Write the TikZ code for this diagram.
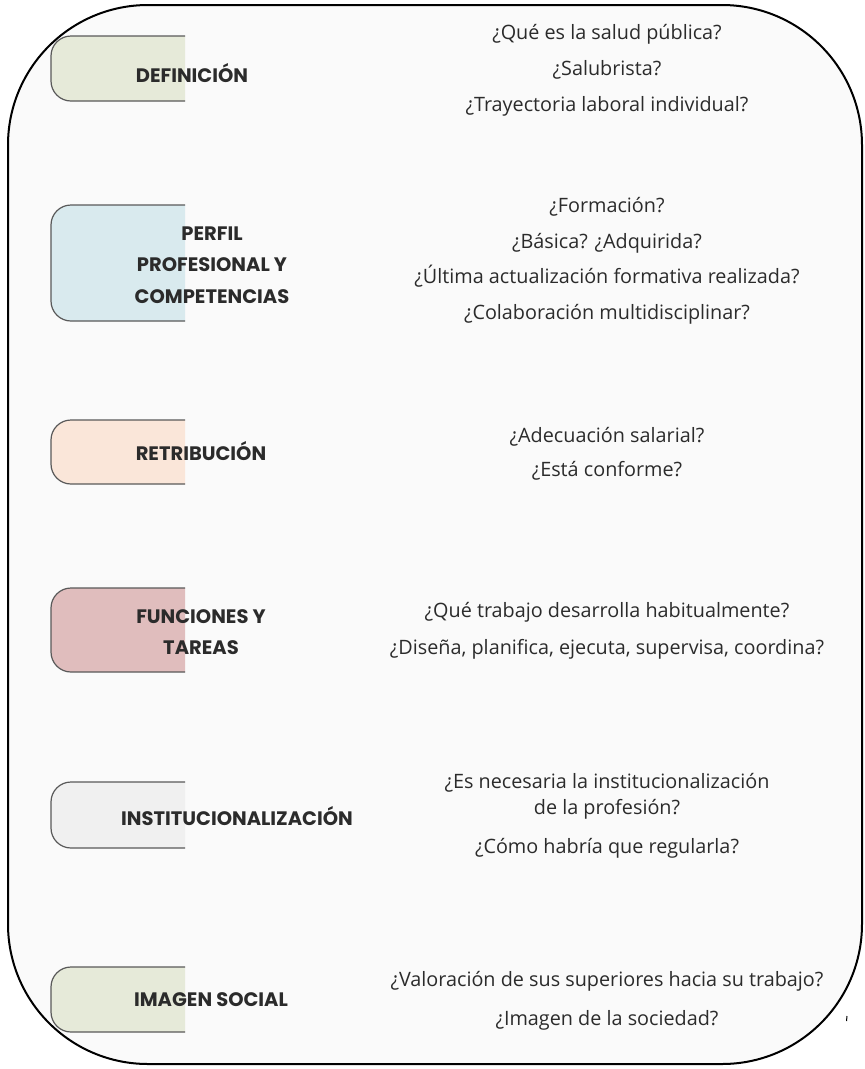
\documentclass[tikz,border=0pt]{standalone}
\usepackage{fontspec}
\setmainfont{Open Sans}
\newfontfamily\tabfont{Poppins}
\usepackage{xcolor}
\usepackage{tikz}
\usetikzlibrary{positioning}
\definecolor{panelgray}{HTML}{FAFAFA}
\definecolor{tabolive}{HTML}{E6EAD9}
\definecolor{tabblue}{HTML}{D9EAEE}
\definecolor{tabpeach}{HTML}{FAE6D9}
\definecolor{tabrose}{HTML}{E0BDBD}
\definecolor{tabgray}{HTML}{F0F0F0}
\definecolor{inkdark}{HTML}{2B2B2B}
\tikzset{
    none/.style = {inner sep=0pt},
    panel/.style = {draw=black, line width=2pt, fill=panelgray, rounded corners=140pt},
    tabedge/.style = {draw=black!65, line width=1.2pt, rounded corners=20pt},
    tablabel/.style = {inner sep=0pt, align=center, text=inkdark,
        font=\tabfont\bfseries\fontsize{19.5}{31.5}\selectfont},
    question/.style = {inner sep=0pt, align=center, text=inkdark,
        font=\fontsize{19.8}{35.5}\selectfont}
}
\begin{document}
\begin{tikzpicture}[x=1pt, y=-1pt]
    \useasboundingbox (0,0) rectangle (865,1069);
    % outer panel
    \draw[panel] (8,5) rectangle (862,1064);
    % left tabs: top left, bottom left, bottom right, top right
    \foreach \ytop/\ybot/\col in {36/101/tabolive, 205/321/tabblue, 420/484/tabpeach,
                                  588/672/tabrose, 782/848/tabgray, 967/1032/tabolive} {
        \fill[\col, rounded corners=20pt] (185,\ytop) -- (51,\ytop) -- (51,\ybot) -- (185,\ybot);
        \draw[tabedge] (185,\ytop) -- (51,\ytop) -- (51,\ybot) -- (185,\ybot);
    }
    % tab labels
    \node [tablabel] (def) at (192, 73) {DEFINICIÓN};
    \node [tablabel] (perfil) at (212, 265) {PERFIL\\PROFESIONAL Y\\COMPETENCIAS};
    \node [tablabel] (retrib) at (201, 451) {RETRIBUCIÓN};
    \node [tablabel] (func) at (201, 632) {FUNCIONES Y\\TAREAS};
    \node [tablabel] (inst) at (237, 816) {INSTITUCIONALIZACIÓN};
    \node [tablabel] (imagen) at (211, 1000) {IMAGEN SOCIAL};
    % questions
    \node [question] (qdef) at (607, 70) {¿Qué es la salud pública?\\[1pt]¿Salubrista?\\¿Trayectoria laboral individual?};
    \node [question] (qperfil) at (607, 261) {¿Formación?\\¿Básica? ¿Adquirida?\\¿Última actualización formativa realizada?\\¿Colaboración multidisciplinar?};
    \node [question] (qretrib) at (607, 454) {¿Adecuación salarial?\\[-2pt]¿Está conforme?};
    \node [question] (qfunc) at (607, 631) {¿Qué trabajo desarrolla habitualmente?\\[1pt]¿Diseña, planifica, ejecuta, supervisa, coordina?};
    \node [question] (qinst) at (607, 816) {¿Es necesaria la institucionalización\\[-10pt]de la profesión?\\[4pt]¿Cómo habría que regularla?};
    \node [question] (qimagen) at (607, 1001) {¿Valoración de sus superiores hacia su trabajo?\\[3pt]¿Imagen de la sociedad?};
    % stray tick
    \draw[line width=1pt] (847,1016) -- (846.5,1021);
\end{tikzpicture}
\end{document}
